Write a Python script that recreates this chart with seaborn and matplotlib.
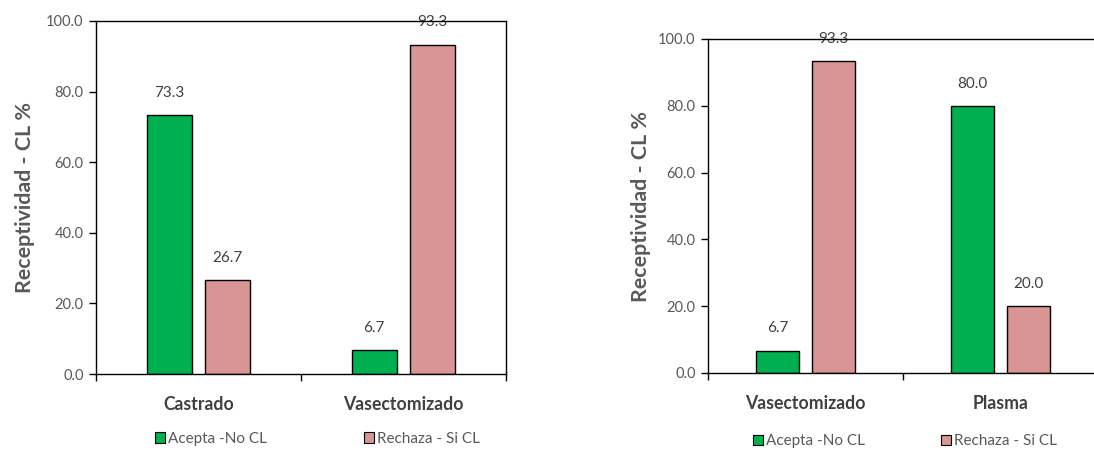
import matplotlib
matplotlib.use("Agg")
import matplotlib.pyplot as plt
from matplotlib.patches import Patch
import seaborn as sns
import pandas as pd

# Data
left_groups = ["Castrado", "Vasectomizado"]
right_groups = ["Vasectomizado", "Plasma"]
series_names = ["Acepta -No CL", "Rechaza - Si CL"]
left_acepta = [73.3, 6.7]
left_rechaza = [26.7, 93.3]
right_acepta = [6.7, 80.0]
right_rechaza = [93.3, 20.0]
y_ticks = [0, 20, 40, 60, 80, 100]

GREEN = "#00B050"
PINK = "#D99594"
TEXT = "#595959"
DARK = "#404040"

sns.set_theme(style="white")
plt.rcParams["font.family"] = ["Lato", "DejaVu Sans"]


def long_frame(groups, acepta, rechaza):
    rows = []
    for g, a, r in zip(groups, acepta, rechaza):
        rows.append({"grupo": g, "serie": series_names[0], "valor": a})
        rows.append({"grupo": g, "serie": series_names[1], "valor": r})
    return pd.DataFrame(rows)


def draw(ax, groups, acepta, rechaza, legend_x, legend_y, labelpad):
    df = long_frame(groups, acepta, rechaza)
    sns.barplot(data=df, x="grupo", y="valor", hue="serie", order=groups,
                hue_order=series_names, palette=[GREEN, PINK], width=0.57,
                gap=0.22, edgecolor="black", linewidth=1.0, saturation=1,
                errorbar=None, ax=ax, legend=False)
    for cont in ax.containers:
        for bar in cont:
            h = bar.get_height()
            ax.annotate(f"{h:.1f}", (bar.get_x() + bar.get_width() / 2, h),
                        xytext=(0, 16), textcoords="offset points",
                        ha="center", va="center", fontsize=11, color=DARK,
                        zorder=1, annotation_clip=False)
    ax.set_ylim(0, 100)
    ax.set_xlim(-0.5, len(groups) - 0.5)
    ax.set_yticks(y_ticks)
    ax.set_yticklabels([f"{v:.1f}" for v in y_ticks], fontsize=10.5, color=TEXT)
    ax.set_xticks(range(len(groups)))
    ax.set_xticklabels(groups, fontsize=12.7, fontweight="bold", color=DARK)
    ax.set_xticks([i - 0.5 for i in range(len(groups) + 1)], minor=True)
    ax.tick_params(axis="x", which="major", length=0, pad=16)
    ax.tick_params(axis="x", which="minor", length=5, width=1, color="black",
                   direction="out", bottom=True)
    ax.tick_params(axis="y", length=5, width=1, color="black",
                   direction="out", left=True, pad=4)
    ax.set_xlabel("")
    ax.set_ylabel("Receptividad - CL %", fontsize=15.4, fontweight="bold",
                  color=TEXT, labelpad=labelpad)
    for s in ax.spines.values():
        s.set_visible(True)
        s.set_color("black")
        s.set_linewidth(1.0)
    colors = [GREEN, PINK]
    legends = []
    for name, col, lx in zip(series_names, colors, legend_x):
        handle = Patch(facecolor=col, edgecolor="black", linewidth=0.8)
        leg = ax.legend([handle], [name], loc="center left",
                        bbox_to_anchor=(lx, legend_y), frameon=False,
                        fontsize=11, handlelength=0.65, handleheight=0.65,
                        handletextpad=0.2, borderpad=0, borderaxespad=0,
                        labelcolor=TEXT)
        legends.append(leg)
    for leg in legends[:-1]:
        ax.add_artist(leg)


W, H = 1094, 453
fig = plt.figure(figsize=(W / 100, H / 100), dpi=100)
ax1 = fig.add_axes([96 / W, (H - 374) / H, 410 / W, 353 / H])
ax2 = fig.add_axes([708 / W, (H - 373) / H, 390 / W, 334 / H])

draw(ax1, left_groups, left_acepta, left_rechaza, (0.144, 0.654), -0.184, 8)
draw(ax2, right_groups, right_acepta, right_rechaza, (0.115, 0.597), -0.204, 5)

fig.savefig("out.png", dpi=100)
